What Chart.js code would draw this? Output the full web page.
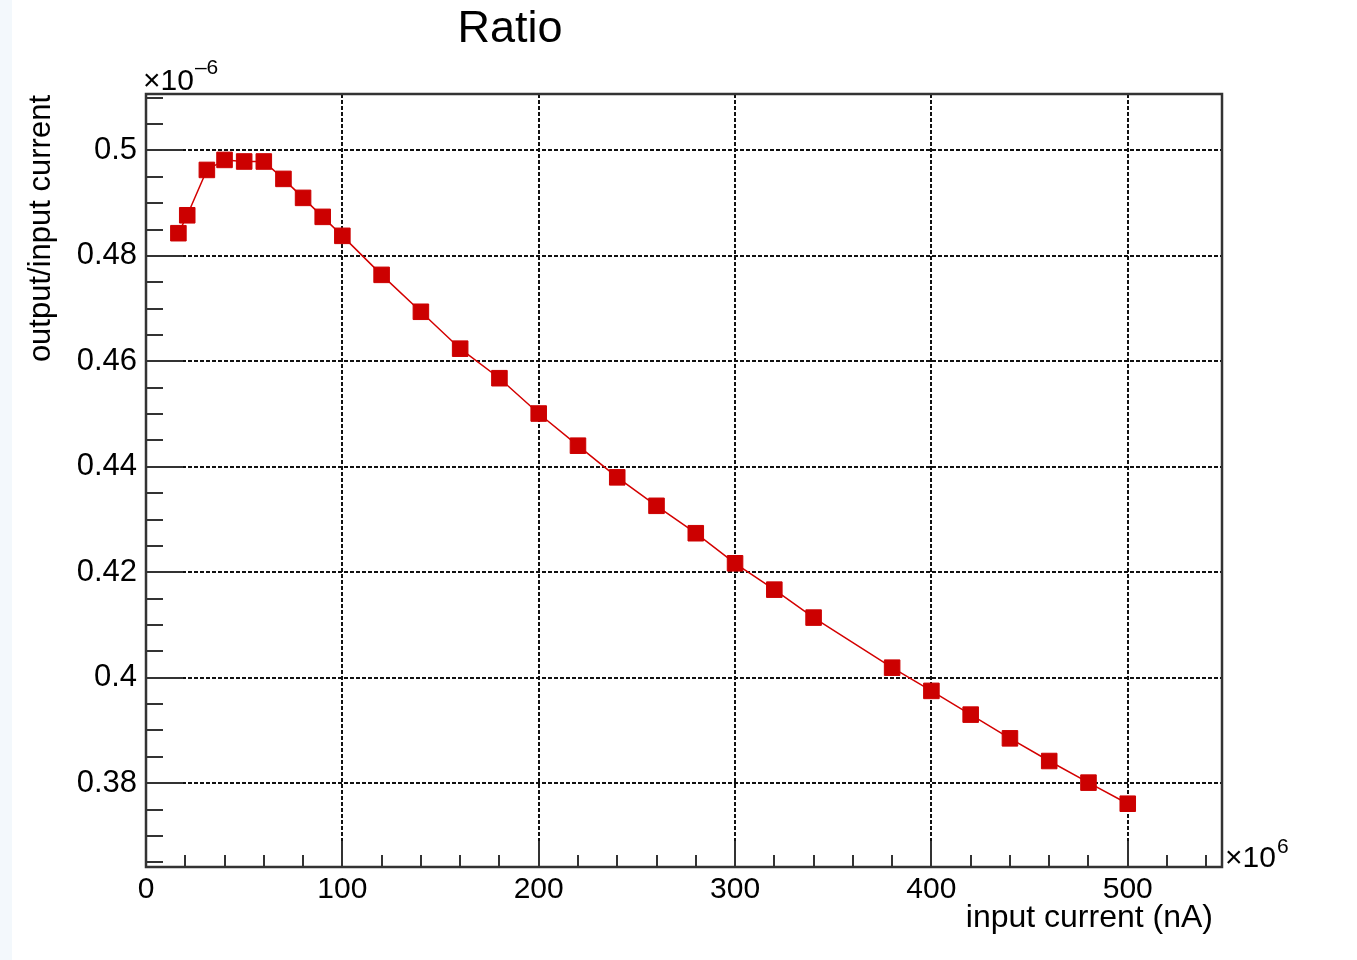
<!DOCTYPE html>
<html>
<head>
<meta charset="utf-8">
<title>Ratio</title>
<script src="https://cdn.jsdelivr.net/npm/chart.js@4.4.1/dist/chart.umd.min.js"></script>
<style>
  html, body { margin: 0; padding: 0; background: #fff; }
  #wrap { width: 1357px; height: 960px; }
</style>
</head>
<body>
<div id="wrap"><canvas id="ratioChart" width="1357" height="960"></canvas></div>
<script>
// input current (x 1e6, nA)
const inputCurrent = [16.5, 21, 31, 40, 50, 60, 70, 80, 90, 100,
    120, 140, 160, 180, 200, 220, 240, 260, 280, 300, 320, 340,
    380, 400, 420, 440, 460, 480, 500];
// output/input current (x 1e-6)
const ratio = [0.4843, 0.4877, 0.4963, 0.4982, 0.4979, 0.4979, 0.4946, 0.4910, 0.4874, 0.4838,
    0.4764, 0.4694, 0.4624, 0.4568, 0.4501, 0.4440, 0.4380, 0.4326, 0.4274, 0.4217, 0.4167, 0.4114,
    0.4019, 0.3975, 0.3930, 0.3885, 0.3842, 0.3801, 0.3761];

const xRange = [0, 548];
const xMajor = [0, 100, 200, 300, 400, 500];
const xTickLabels = ['0', '100', '200', '300', '400', '500'];
const xMinorStep = 20;

const yRange = [0.3641, 0.5107];
const yMajor = [0.38, 0.40, 0.42, 0.44, 0.46, 0.48, 0.50];
const yTickLabels = ['0.38', '0.4', '0.42', '0.44', '0.46', '0.48', '0.5'];
const yMinorStep = 0.005;

const FONT = "'Liberation Sans', Arial, Helvetica, sans-serif";

function isMajor(v, majors) {
    return majors.some(m => Math.abs(m - v) < 1e-9);
}

// ROOT-style frame: inward ticks, solid box, titles and exponent labels
const rootFrame = {
    id: 'rootFrame',
    beforeDraw(chart) {
        const ctx = chart.ctx;
        ctx.save();
        ctx.fillStyle = '#ffffff';
        ctx.fillRect(0, 0, chart.width, chart.height);
        ctx.fillStyle = '#f3f8fc';
        ctx.fillRect(0, 0, 12, chart.height);
        ctx.restore();
    },
    afterDatasetsDraw(chart) {
        const { ctx, chartArea: a, scales: { x, y } } = chart;
        ctx.save();
        ctx.strokeStyle = '#333';
        ctx.lineWidth = 2;
        ctx.beginPath();
        for (let k = Math.ceil(x.min / xMinorStep); k * xMinorStep <= x.max; k++) {
            const v = k * xMinorStep;
            const px = Math.round(x.getPixelForValue(v));
            const len = isMajor(v, xMajor) ? 26 : 12;
            ctx.moveTo(px, a.bottom);
            ctx.lineTo(px, a.bottom - len);
        }
        for (let k = Math.ceil(y.min / yMinorStep - 1e-9); k * yMinorStep <= y.max + 1e-9; k++) {
            const v = k * yMinorStep;
            const py = Math.round(y.getPixelForValue(v));
            const len = isMajor(v, yMajor) ? 37 : 17;
            ctx.moveTo(a.left, py);
            ctx.lineTo(a.left + len, py);
        }
        ctx.stroke();
        ctx.lineWidth = 2.5;
        ctx.strokeRect(a.left, a.top, a.right - a.left, a.bottom - a.top);
        ctx.restore();
    },
    afterDraw(chart) {
        const { ctx, chartArea: a } = chart;
        ctx.save();
        ctx.fillStyle = '#000';
        ctx.textBaseline = 'alphabetic';

        // title
        ctx.font = '45px ' + FONT;
        ctx.textAlign = 'center';
        ctx.fillText('Ratio', 510, 42);

        // axis titles
        ctx.font = '32px ' + FONT;
        ctx.textAlign = 'right';
        ctx.fillText('input current (nA)', 1213, 927);

        ctx.save();
        ctx.translate(50, a.top + 1);
        ctx.rotate(-Math.PI / 2);
        ctx.font = '31px ' + FONT;
        ctx.textAlign = 'right';
        ctx.fillText('output/input current', 0, 0);
        ctx.restore();

        // exponent labels
        ctx.textAlign = 'left';
        ctx.font = '30px ' + FONT;
        ctx.fillText('\u00d710', 143, 90);
        let w = ctx.measureText('\u00d710').width;
        ctx.font = '21px ' + FONT;
        ctx.fillText('\u20136', 143 + w + 1, 74);

        ctx.font = '30px ' + FONT;
        ctx.fillText('\u00d710', 1225, 867);
        w = ctx.measureText('\u00d710').width;
        ctx.font = '21px ' + FONT;
        ctx.fillText('6', 1225 + w + 1, 853);
        ctx.restore();
    }
};

const ctx = document.getElementById('ratioChart').getContext('2d');
new Chart(ctx, {
    type: 'line',
    data: {
        datasets: [{
            data: inputCurrent.map((v, i) => ({ x: v, y: ratio[i] })),
            borderColor: '#d40000',
            borderWidth: 1.5,
            tension: 0,
            pointStyle: 'rect',
            pointRadius: 11,
            pointBackgroundColor: '#cc0000',
            pointBorderColor: '#cc0000',
            pointBorderWidth: 1,
        }]
    },
    options: {
        responsive: false,
        animation: false,
        layout: { padding: { left: 0, top: 94, right: 135, bottom: 0 } },
        plugins: {
            legend: { display: false },
            tooltip: { enabled: false },
        },
        scales: {
            x: {
                type: 'linear',
                min: xRange[0],
                max: xRange[1],
                afterFit: function (scale) { scale.height = 93; },
                afterBuildTicks: function (scale) {
                    scale.ticks = xMajor.map(v => ({ value: v }));
                },
                ticks: {
                    autoSkip: false,
                    maxRotation: 0,
                    padding: 5,
                    color: '#000',
                    font: { family: FONT, size: 30 },
                    callback: function (value, index) { return xTickLabels[index]; }
                },
                grid: { color: '#111', lineWidth: 2, drawTicks: false },
                border: { display: false, dash: [4, 2] }
            },
            y: {
                type: 'linear',
                min: yRange[0],
                max: yRange[1],
                afterFit: function (scale) { scale.width = 146; },
                afterBuildTicks: function (scale) {
                    scale.ticks = yMajor.map(v => ({ value: v }));
                },
                ticks: {
                    autoSkip: false,
                    padding: 9,
                    color: '#000',
                    font: { family: FONT, size: 31 },
                    callback: function (value, index) { return yTickLabels[index]; }
                },
                grid: { color: '#111', lineWidth: 2, drawTicks: false },
                border: { display: false, dash: [4, 2] }
            }
        }
    },
    plugins: [rootFrame]
});
</script>
</body>
</html>
